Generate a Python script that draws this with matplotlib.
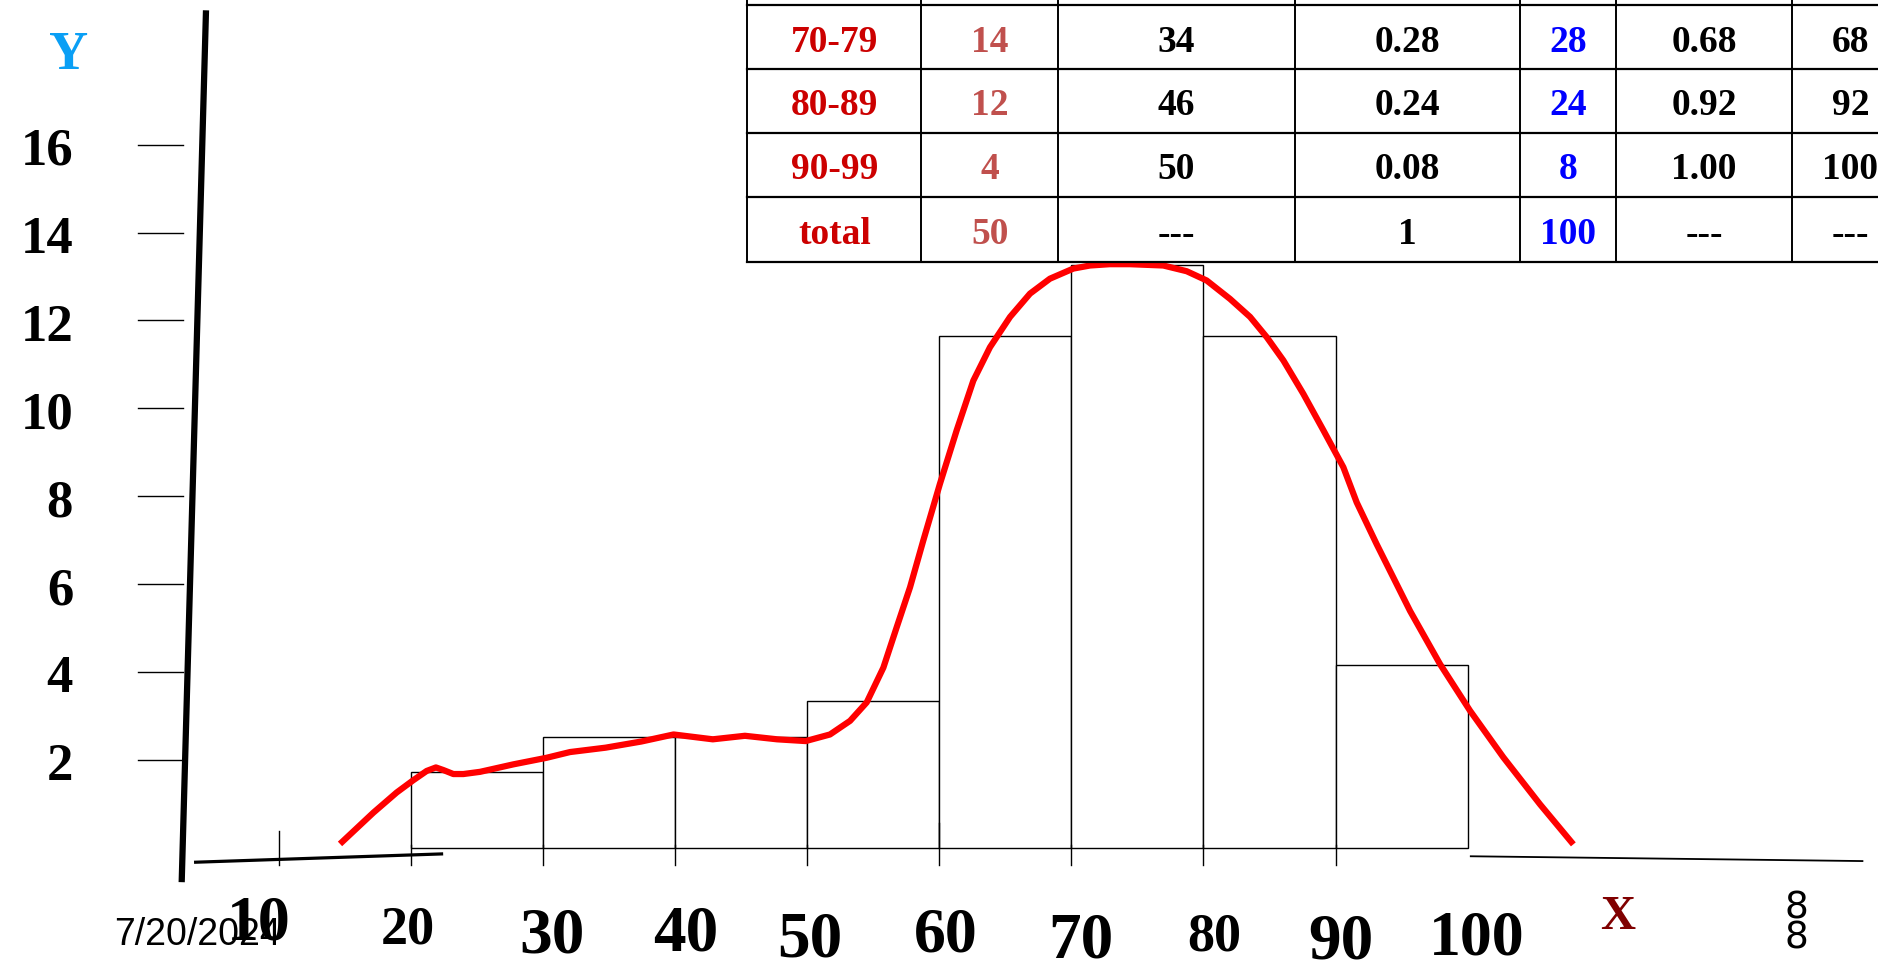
import matplotlib
matplotlib.use('Agg')
import matplotlib.pyplot as plt
from matplotlib.transforms import blended_transform_factory
from matplotlib.patches import Rectangle

# 히스토그램 데이터 (계급 경계, 막대 높이)
bin_edges = [20, 30, 40, 50, 60, 70, 80, 90, 100]
bar_heights = [1.72, 2.52, 2.52, 3.34, 11.64, 13.27, 11.64, 4.16]

# 손으로 그린 빨간 곡선 (그림에서 읽어낸 점)
curve_x = [14.64, 17.16, 18.93, 20.19, 21.20, 21.90, 22.47, 23.22, 23.98, 25.24,
           27.76, 30.28, 32.05, 34.75, 37.45, 39.89, 42.86, 45.29, 47.73, 49.89,
           51.73, 53.25, 54.51, 55.77, 56.78, 57.79, 58.79, 60.05, 61.32, 62.58,
           63.84, 65.36, 66.87, 68.38, 70.15, 71.41, 72.90, 74.44, 76.96, 78.73,
           80.24, 82.01, 83.53, 84.79, 86.05, 87.56, 89.08, 90.59, 91.60, 93.11,
           95.64, 97.91, 100.18, 102.70, 105.48, 108.00]
curve_y = [0.09, 0.80, 1.26, 1.54, 1.75, 1.83, 1.77, 1.68, 1.68, 1.73,
           1.90, 2.05, 2.18, 2.28, 2.42, 2.58, 2.47, 2.55, 2.47, 2.43,
           2.58, 2.89, 3.31, 4.10, 5.02, 5.93, 6.99, 8.28, 9.50, 10.63,
           11.39, 12.08, 12.61, 12.95, 13.18, 13.25, 13.28, 13.28, 13.25, 13.12,
           12.91, 12.49, 12.08, 11.62, 11.09, 10.33, 9.50, 8.66, 7.86, 6.91,
           5.39, 4.18, 3.12, 2.06, 0.99, 0.08]

y_ticks = [2, 4, 6, 8, 10, 12, 14, 16]
x_ticks = [10, 20, 30, 40, 50, 60, 70, 80, 90, 100]

# 도수분포표 (아래쪽 행들)
t_class = ['70-79', '80-89', '90-99', 'total']
t_freq = ['14', '12', '4', '50']
t_cum = ['34', '46', '50', '---']
t_rel = ['0.28', '0.24', '0.08', '1']
t_pct = ['28', '24', '8', '100']
t_cumrel = ['0.68', '0.92', '1.00', '---']
t_cumpct = ['68', '92', '100', '---']

# 레이아웃 (참조 그림 1568x808 기준 픽셀)
W, H = 1568, 808
X0, XS = 122.4, 11.03
Y0, YS = 707.0, 36.65
SERIF = 'Liberation Serif'

fig = plt.figure(figsize=(18.78, 9.69), dpi=100)
ax = fig.add_axes([0, 0, 1, 1])
lay = fig.add_axes([0, 0, 1, 1])
for a in (ax, lay):
    a.set_axis_off()
lay.patch.set_alpha(0)
lay.set_zorder(2)
ax.set_xlim((0 - X0) / XS, (W - X0) / XS)
ax.set_ylim((Y0 - H) / YS, Y0 / YS)
lay.set_xlim(0, W)
lay.set_ylim(H, 0)

x_blend = blended_transform_factory(ax.transData, lay.transData)

# 막대와 곡선
ax.bar(bin_edges[:-1], bar_heights, width=10, align='edge',
       facecolor='white', edgecolor='black', linewidth=1.0, zorder=2)
ax.plot(curve_x, curve_y, color='#ff0000', lw=4.5, solid_capstyle='butt',
        solid_joinstyle='round', zorder=3)

# 기울어진 y축과 x축 선
lay.plot([172, 151.7], [8.6, 735.6], color='black', lw=4.5, solid_capstyle='butt')
lay.plot([162, 370], [719, 712], color='black', lw=2.3, solid_capstyle='butt')
lay.plot([1228, 1555], [714, 718], color='black', lw=1.3)

# y 눈금
for v in y_ticks:
    ax.plot([(115 - X0) / XS, (152.5 - X0) / XS], [v, v], color='black', lw=1.0)
    lay.text(61, Y0 - v * YS + 6, str(v), ha='right', va='center',
             fontsize=38, fontweight='bold', family=SERIF)

# x 눈금 (아래 짧은 선)
tick_top = {10: 692.6, 60: 686.4}
for v in x_ticks[:-1]:
    ax.plot([v, v], [tick_top.get(v, 705), 721], transform=x_blend,
            color='black', lw=1.0)

x_label_dx = [-1.5, -0.2, 0.7, 0.8, 0.2, 0.5, 0.7, 0.8, 0.4, 0.7]
x_label_y = [771, 776, 781, 779, 784, 781, 785, 782, 786, 783]
x_label_fs = [46, 39, 47, 47, 47, 46, 47, 39, 47, 46]
for v, dx, py, fs in zip(x_ticks, x_label_dx, x_label_y, x_label_fs):
    ax.text(v + dx, py, str(v), transform=x_blend, ha='center', va='center',
            fontsize=fs, fontweight='bold', family=SERIF)

lay.text(57, 47, 'Y', color='#0a9ff5', ha='center', va='center',
         fontsize=39, fontweight='bold', family=SERIF)
lay.text(1351, 765, 'X', color='#800000', ha='center', va='center',
         fontsize=35, fontweight='bold', family=SERIF)
lay.text(165, 780, '7/20/2024', ha='center', va='center', fontsize=27,
         family='Liberation Sans')
lay.text(1500, 770, '8\n8', ha='center', va='center', fontsize=27,
         linespacing=0.8, family='DejaVu Sans')

# 표
col_lines = [624, 769.3, 883.3, 1081.3, 1269.2, 1349.2, 1496.4]
row_lines = [4.2, 57.9, 110.8, 164.2, 218.5]
col_centers = [696.7, 826.3, 982.3, 1175.3, 1309.2, 1422.8, 1545]
lay.add_patch(Rectangle((624, -10), 1000, 228.5, facecolor='white',
                        edgecolor='none', zorder=1))
for cx in col_lines:
    lay.plot([cx, cx], [-5, 218.5], color='black', lw=1.4, zorder=2)
for ry in row_lines:
    lay.plot([624, 1600], [ry, ry], color='black', lw=1.6, zorder=2)

columns = [t_class, t_freq, t_cum, t_rel, t_pct, t_cumrel, t_cumpct]
col_colors = ['#cc0000', '#c0504d', 'black', 'black', '#0000ff', 'black', 'black']
for cx, vals, c in zip(col_centers, columns, col_colors):
    for i, s in enumerate(vals):
        ry = (row_lines[i] + row_lines[i + 1]) / 2 + 4
        lay.text(cx, ry, s, color=c, ha='center', va='center', fontsize=27,
                 fontweight='bold', family=SERIF, zorder=3)

fig.savefig('out.png', dpi=100)
